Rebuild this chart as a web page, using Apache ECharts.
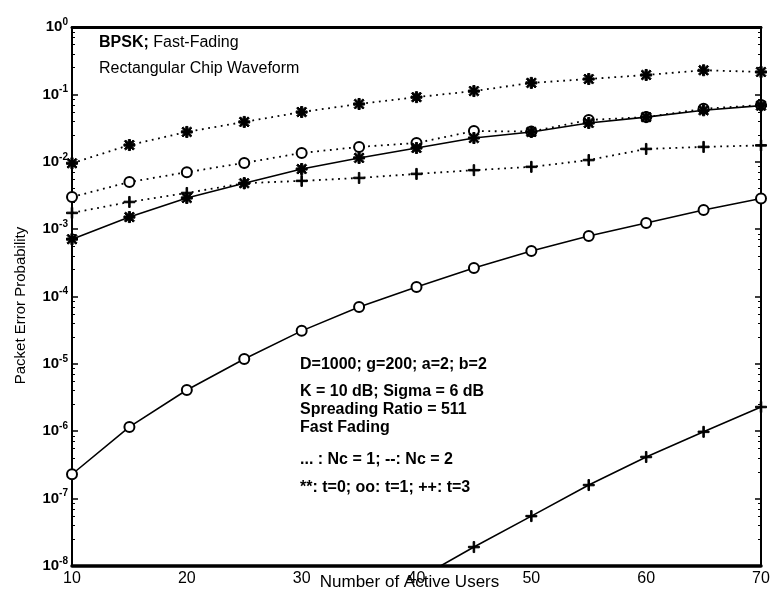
<!DOCTYPE html>
<html>
<head>
<meta charset="utf-8">
<style>
  html, body { margin: 0; padding: 0; background: #fff; }
  #chart { width: 770px; height: 597px; }
</style>
<script src="https://cdn.jsdelivr.net/npm/echarts@6/dist/echarts.min.js"></script>
</head>
<body>
<div id="chart"></div>
<script>
// Number of active users on the x axis
const users = [10, 15, 20, 25, 30, 35, 40, 45, 50, 55, 60, 65, 70];

// Packet error probability, Nc = 1 (dotted curves)
const nc1T0 = [0.0095, 0.0177, 0.0277, 0.039, 0.0547, 0.072, 0.091, 0.112, 0.148, 0.169, 0.194, 0.228, 0.215];
const nc1T1 = [0.0030, 0.0050, 0.0070, 0.0096, 0.0135, 0.0166, 0.019, 0.0286, 0.028, 0.0417, 0.046, 0.061, 0.0696];
const nc1T3 = [0.00174, 0.00253, 0.00344, 0.0048, 0.0052, 0.00575, 0.0066, 0.0075, 0.0084, 0.0106, 0.0155, 0.0166, 0.0175];

// Packet error probability, Nc = 2 (solid curves)
const nc2T0 = [0.00071, 0.00151, 0.0029, 0.0048, 0.0078, 0.0114, 0.016, 0.0225, 0.0277, 0.0376, 0.046, 0.058, 0.068];
const nc2T1 = [2.3e-7, 1.16e-6, 4.1e-6, 1.18e-5, 3.09e-5, 6.99e-5, 1.38e-4, 2.65e-4, 4.73e-4, 7.9e-4, 1.23e-3, 1.92e-3, 2.85e-3];
const usersT3 = [40, 45, 50, 55, 60, 65, 70];
const nc2T3 = [6.3e-9, 1.91e-8, 5.5e-8, 1.59e-7, 4.15e-7, 9.8e-7, 2.29e-6];

// Axis settings
const xTicks = { min: 10, max: 70, step: 10 };
const yDecades = { min: 1e-8, max: 1 };

const FONT = '"Liberation Sans", Arial, sans-serif';

// Marker shapes
const STAR = 'path://M0,4 L10,4 L10,6 L0,6 Z M4,0 L6,0 L6,10 L4,10 Z ' +
  'M1.6,0.4 L9.6,8.4 L8.4,9.6 L0.4,1.6 Z M8.4,0.4 L9.6,1.6 L1.6,9.6 L0.4,8.4 Z';
const PLUS = 'path://M0,4.3 L10,4.3 L10,5.7 L0,5.7 Z M4.3,0 L5.7,0 L5.7,10 L4.3,10 Z';

function pairs(xs, ys) { return xs.map((x, i) => [x, ys[i]]); }

const dotted = { color: '#000', width: 1.8, type: [1.8, 4.6], cap: 'butt' };
const solid = { color: '#000', width: 1.6, type: 'solid' };

function curve(name, xs, ys, line, symbol, size) {
  const s = {
    name: name,
    type: 'line',
    data: pairs(xs, ys),
    smooth: false,
    clip: true,
    symbol: symbol,
    symbolSize: size,
    showSymbol: true,
    lineStyle: line,
    itemStyle: { color: '#000', borderColor: '#000' },
    emphasis: { disabled: true },
    animation: false
  };
  if (symbol === 'emptyCircle') {
    s.itemStyle = { color: '#000', borderWidth: 1.8 };
  }
  return s;
}

const chart = echarts.init(document.getElementById('chart'), null, { renderer: 'canvas' });

const supLabel = function (v) {
  const e = Math.round(Math.log10(v));
  return '{b|10}{s|' + e + '}';
};

chart.setOption({
  backgroundColor: '#fff',
  animation: false,
  grid: { left: 72, right: 9, top: 27, bottom: 31, containLabel: false, outerBoundsMode: 'none' },
  xAxis: [
    {
      type: 'value', position: 'bottom',
      min: xTicks.min, max: xTicks.max, interval: xTicks.step,
      axisLine: { show: true, lineStyle: { color: '#000', width: 3.5 } },
      axisTick: { show: false },
      splitLine: { show: false },
      axisLabel: { color: '#000', fontFamily: FONT, fontSize: 16, margin: 5 },
      name: 'Number of Active Users',
      nameLocation: 'middle',
      nameGap: 8,
      nameMoveOverlap: false,
      nameTextStyle: { color: '#000', fontFamily: FONT, fontSize: 17, verticalAlign: 'top', padding: [0, 14, 0, 0] }
    },
    {
      type: 'value', position: 'top',
      min: xTicks.min, max: xTicks.max, interval: xTicks.step,
      axisLine: { show: true, lineStyle: { color: '#000', width: 3 } },
      axisTick: { show: false },
      axisLabel: { show: false },
      splitLine: { show: false }
    }
  ],
  yAxis: [
    {
      type: 'log', logBase: 10, position: 'left',
      min: yDecades.min, max: yDecades.max, interval: 1, splitNumber: 8,
      axisLine: { show: true, lineStyle: { color: '#000', width: 2 } },
      axisTick: { show: true, inside: true, length: 6, lineStyle: { color: '#000', width: 1.5 } },
      minorTick: { show: true, splitNumber: 6, length: 3, lineStyle: { color: '#000', width: 1 } },
      splitLine: { show: false },
      axisLabel: {
        margin: 4,
        formatter: supLabel,
        rich: {
          b: { fontFamily: FONT, fontSize: 15, fontWeight: 'bold', color: '#000' },
          s: { fontFamily: FONT, fontSize: 10, fontWeight: 'bold', color: '#000', padding: [0, 0, 10, 0] }
        }
      },
      name: 'Packet Error Probability',
      nameLocation: 'middle',
      nameGap: 44,
      nameRotate: 90,
      nameMoveOverlap: false,
      nameTextStyle: { color: '#000', fontFamily: FONT, fontSize: 15, padding: [0, 18, 0, 0] }
    },
    {
      type: 'log', logBase: 10, position: 'right',
      min: yDecades.min, max: yDecades.max, interval: 1, splitNumber: 8,
      axisLine: { show: true, lineStyle: { color: '#000', width: 2 } },
      axisTick: { show: true, inside: true, length: 6, lineStyle: { color: '#000', width: 1.5 } },
      minorTick: { show: true, splitNumber: 6, length: 3, lineStyle: { color: '#000', width: 1 } },
      splitLine: { show: false },
      axisLabel: { show: false }
    }
  ],
  series: [
    curve('Nc=1, t=0', users, nc1T0, dotted, STAR, 11),
    curve('Nc=1, t=1', users, nc1T1, dotted, 'emptyCircle', 10),
    curve('Nc=1, t=3', users, nc1T3, dotted, PLUS, 11),
    curve('Nc=2, t=0', users, nc2T0, solid, STAR, 11),
    curve('Nc=2, t=1', users, nc2T1, solid, 'emptyCircle', 10),
    curve('Nc=2, t=3', usersT3, nc2T3, solid, PLUS, 11)
  ],
  graphic: [
    {
      type: 'text', left: 99, top: 35, silent: true,
      style: {
        text: '{k|BPSK;} Fast-Fading',
        fontFamily: FONT, fontSize: 16, fill: '#000',
        rich: { k: { fontFamily: FONT, fontSize: 16, fontWeight: 'bold', fill: '#000' } }
      }
    },
    {
      type: 'text', left: 99, top: 61, silent: true,
      style: { text: 'Rectangular Chip Waveform', fontFamily: FONT, fontSize: 16, fill: '#000' }
    },
    {
      type: 'text', left: 300, top: 357, silent: true,
      style: {
        text: 'D=1000; g=200; a=2; b=2',
        fontFamily: FONT, fontSize: 16, fontWeight: 'bold', fill: '#000'
      }
    },
    {
      type: 'text', left: 300, top: 384, silent: true,
      style: { text: 'K = 10 dB; Sigma = 6 dB', fontFamily: FONT, fontSize: 16, fontWeight: 'bold', fill: '#000' }
    },
    {
      type: 'text', left: 300, top: 402, silent: true,
      style: { text: 'Spreading Ratio = 511', fontFamily: FONT, fontSize: 16, fontWeight: 'bold', fill: '#000' }
    },
    {
      type: 'text', left: 300, top: 420, silent: true,
      style: { text: 'Fast Fading', fontFamily: FONT, fontSize: 16, fontWeight: 'bold', fill: '#000' }
    },
    {
      type: 'text', left: 300, top: 452, silent: true,
      style: { text: '... : Nc = 1; --: Nc = 2', fontFamily: FONT, fontSize: 16, fontWeight: 'bold', fill: '#000' }
    },
    {
      type: 'text', left: 300, top: 480, silent: true,
      style: { text: '**: t=0; oo: t=1; ++: t=3', fontFamily: FONT, fontSize: 16, fontWeight: 'bold', fill: '#000' }
    }
  ]
});
</script>
</body>
</html>
